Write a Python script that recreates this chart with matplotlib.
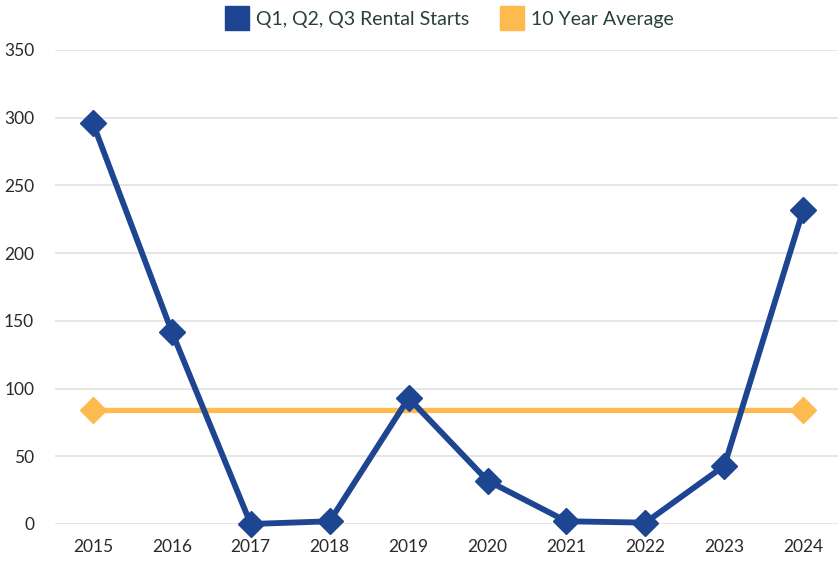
import matplotlib
matplotlib.use("Agg")
import matplotlib.pyplot as plt
from matplotlib.lines import Line2D

years = ["2015", "2016", "2017", "2018", "2019", "2020", "2021", "2022", "2023", "2024"]
rental_starts = [296, 142, 0, 2, 93, 32, 2, 1, 43, 232]
ten_year_avg = [84] * len(years)
y_ticks = [0, 50, 100, 150, 200, 250, 300, 350]

BLUE = "#1d4591"
ORANGE = "#fdbb4f"
TEXT = "#2a2a2a"

plt.rcParams["font.family"] = ["Lato", "DejaVu Sans"]

fig = plt.figure(figsize=(8.38, 5.61), dpi=100)
ax = fig.add_axes([55 / 838, (561 - 524) / 561, (838 - 55) / 838, (524 - 50) / 561])

x = list(range(len(years)))
ax.plot(x, ten_year_avg, color=ORANGE, lw=3.8, marker="D", markersize=13,
        markevery=[0, len(years) - 1], clip_on=False, zorder=3, solid_capstyle="butt")
ax.plot(x, rental_starts, color=BLUE, lw=4.2, marker="D", markersize=13,
        clip_on=False, zorder=4)

ax.set_xlim(-0.48, 9.44)
ax.set_ylim(0, 350)
ax.set_yticks(y_ticks)
ax.set_xticks(x)
ax.set_xticklabels(years)
ax.grid(axis="y", color="#e4e4e4", lw=1.3)
ax.set_axisbelow(True)
for s in ax.spines.values():
    s.set_visible(False)
ax.tick_params(axis="both", length=0, labelsize=12.5, colors=TEXT)
ax.tick_params(axis="y", pad=15)
ax.tick_params(axis="x", pad=11)

handles = [
    Line2D([], [], marker="s", linestyle="none", markersize=17, color=BLUE),
    Line2D([], [], marker="s", linestyle="none", markersize=17, color=ORANGE),
]
fig.legend(handles, ["Q1, Q2, Q3 Rental Starts", "10 Year Average"],
           loc="center", bbox_to_anchor=(450 / 838, 1 - 19 / 561), ncol=2,
           frameon=False, fontsize=14, handletextpad=0.45, columnspacing=1.6,
           labelcolor="#27403a", handlelength=1.1)

fig.savefig("out.png", dpi=100, facecolor="white")
